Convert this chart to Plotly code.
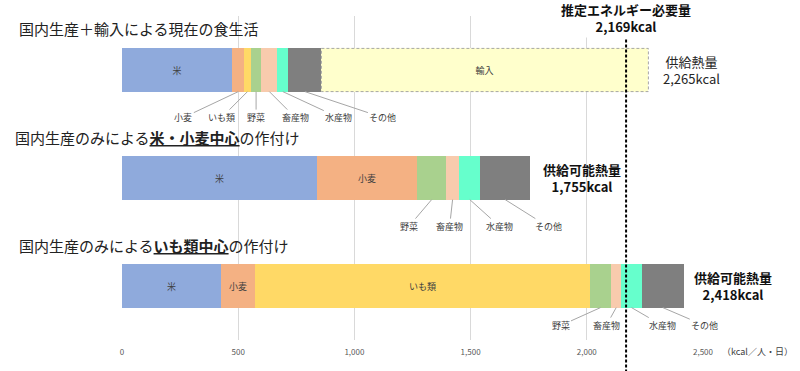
import plotly.graph_objects as go

# ---------------- data ----------------
scenarios = ["現在の食生活", "米・小麦中心", "いも類中心"]
categories = ["米", "小麦", "いも類", "野菜", "畜産物", "水産物", "その他"]
rice = [475, 838, 426]
wheat = [51, 433, 148]
imo = [28, 0, 1440]
vegetables = [46, 123, 90]
livestock = [68, 57, 45]
fish = [48, 91, 87]
other = [142, 213, 182]
imports = [1407, 0, 0]
required_energy = 2169
x_ticks = [0, 500, 1000, 1500, 2000, 2500]

series = [rice, wheat, imo, vegetables, livestock, fish, other]
colors = ["#8FAADC", "#F4B183", "#FFD966", "#A9D18E", "#F8CBAD", "#66FFCC", "#7F7F7F"]
inside_text = {
    "米": ["米", "米", "米"],
    "小麦": ["", "小麦", "小麦"],
    "いも類": ["", "", "いも類"],
}
FONT = "Noto Sans CJK JP, Noto Sans, sans-serif"
BAR_W = 0.4

fig = go.Figure()
for name, vals, col in zip(categories, series, colors):
    fig.add_trace(go.Bar(
        y=list(range(len(scenarios))), x=vals, name=name, orientation="h",
        width=BAR_W, marker=dict(color=col, line=dict(width=0)),
        text=inside_text.get(name, [""] * len(scenarios)),
        textposition="inside", insidetextanchor="middle", textangle=0,
        constraintext="none",
        textfont=dict(size=9, color="#404040", family=FONT),
        showlegend=False,
    ))
fig.add_trace(go.Bar(
    y=[0], x=[imports[0]], name="輸入", orientation="h", width=BAR_W,
    marker=dict(color="#FFFFCC", line=dict(width=0)),
    text=["輸入"], textposition="inside", insidetextanchor="middle", textangle=0,
    constraintext="none", textfont=dict(size=9, color="#404040", family=FONT),
    showlegend=False,
))

domestic = [sum(s[i] for s in series) for i in range(3)]
totals = [domestic[i] + imports[i] for i in range(3)]

# dashed outline for import segment
fig.add_shape(type="rect", xref="x", yref="y", x0=domestic[0], x1=totals[0],
              y0=-BAR_W / 2, y1=BAR_W / 2,
              line=dict(color="#A6A6A6", width=1, dash="3px,2px"), layer="above")

# required energy line
fig.add_shape(type="line", xref="x", yref="paper", x0=required_energy, x1=required_energy,
              y0=-0.1, y1=0.932, line=dict(color="#000000", width=2, dash="3px,2px"))

ann = []
# leader labels: (scenario, category index, ax, ay)
leaders = [
    (0, 1, -55, 26), (0, 2, -26, 26), (0, 3, 0, 26), (0, 4, 26, 26), (0, 5, 56, 26), (0, 6, 78, 26),
    (1, 3, -23, 27), (1, 4, -3, 27), (1, 5, 30, 27), (1, 6, 43, 27),
    (2, 3, -40, 18), (2, 4, -10, 18), (2, 5, 31, 18), (2, 6, 42, 18),
]
for si, ci, ax, ay in leaders:
    start = sum(series[k][si] for k in range(ci))
    mid = start + series[ci][si] / 2
    ann.append(dict(x=mid, y=si + BAR_W / 2, xref="x", yref="y", text=categories[ci],
                    showarrow=True, arrowhead=0, arrowwidth=1, arrowcolor="#A6A6A6",
                    ax=ax, ay=ay, standoff=0, startstandoff=0,
                    font=dict(size=9, color="#404040", family=FONT)))

# titles
titles = [
    ("国内生産＋輸入による現在の食生活", -0.181, 0.96),
    ("国内生産のみによる<b><u>米・小麦中心</u></b>の作付け", -0.188, 0.6235),
    ("国内生産のみによる<b><u>いも類中心</u></b>の作付け", -0.181, 0.293),
]
for t, x, y in titles:
    ann.append(dict(text=t, xref="paper", yref="paper", x=x, y=y, xanchor="left",
                    yanchor="middle", showarrow=False,
                    font=dict(size=15, color="#222222", family=FONT)))

# totals
ann.append(dict(text=f"供給熱量<br>{totals[0]:,}kcal", xref="paper", yref="y", x=0.9802, y=0,
                xanchor="center", yanchor="middle",
                showarrow=False, font=dict(size=13, color="#262626", family=FONT)))
ann.append(dict(text=f"<b>供給可能熱量<br>{totals[1]:,}kcal</b>", xref="paper", yref="y", x=0.7912, y=1,
                xanchor="center", yanchor="middle",
                showarrow=False, font=dict(size=13, color="#111111", family=FONT)))
ann.append(dict(text=f"<b>供給可能熱量<br>{totals[2]:,}kcal</b>", xref="paper", yref="y", x=1.0516, y=2,
                xanchor="center", yanchor="middle",
                showarrow=False, font=dict(size=13, color="#111111", family=FONT)))
ann.append(dict(text=f"<b>推定エネルギー必要量<br>{required_energy:,}kcal</b>", xref="x", yref="paper",
                x=required_energy, y=0.994, xanchor="center", yanchor="middle", showarrow=False,
                bgcolor="#FFFFFF", font=dict(size=13, color="#111111", family=FONT)))
ann.append(dict(text="（kcal／人・日）", xref="paper", yref="paper", x=1.093, y=-0.037,
                xanchor="center", yanchor="middle", showarrow=False, bgcolor="#FFFFFF",
                font=dict(size=9, color="#404040", family=FONT)))

fig.update_layout(
    barmode="stack", width=800, height=371,
    margin=dict(l=122, r=97, t=16, b=31),
    paper_bgcolor="#FFFFFF", plot_bgcolor="#FFFFFF",
    font=dict(family=FONT),
    annotations=ann, bargap=0,
    xaxis=dict(range=[0, 2500], tickvals=x_ticks, tickformat=",", showgrid=True,
               gridcolor="#D9D9D9", gridwidth=1, zeroline=False, showline=False,
               tickfont=dict(size=8, color="#595959", family=FONT), ticks="",
               ticklabelstandoff=6),
    yaxis=dict(range=[2.5, -0.5], showticklabels=False, showgrid=False, zeroline=False,
               showline=False),
)
fig.write_html("out.html", config={"displayModeBar": False},
               post_script="document.body.style.margin='0';")
